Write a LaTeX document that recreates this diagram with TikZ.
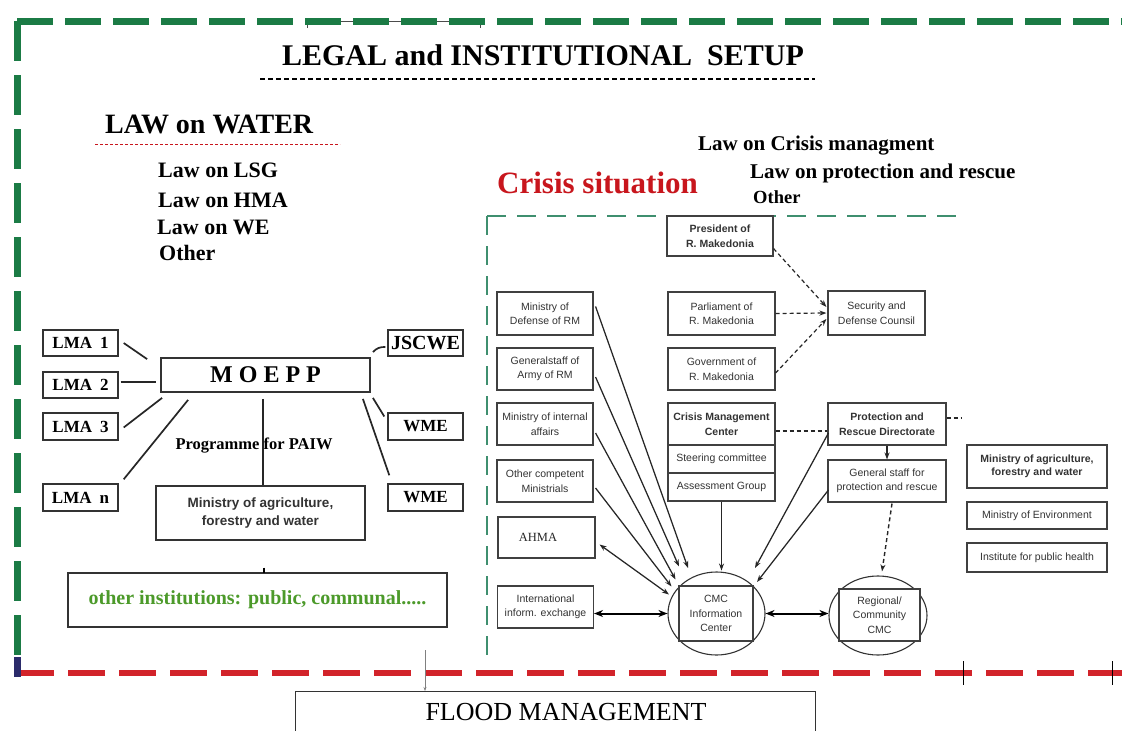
\documentclass[tikz,border=0pt]{standalone}
\usepackage{fontspec}
\setmainfont{Liberation Serif}
\newfontfamily\arialf{Liberation Sans}
\usetikzlibrary{arrows.meta,calc,shapes.geometric}
\definecolor{bordergreen}{HTML}{1B7B45}
\definecolor{borderred}{HTML}{D2232A}
\definecolor{crisisred}{HTML}{C8161D}
\definecolor{crisisgreen}{HTML}{3F8F6F}
\definecolor{instgreen}{HTML}{4C9A2A}
\definecolor{txtgrey}{HTML}{333333}
\definecolor{cornernavy}{HTML}{2B2B6B}
\begin{document}
\begin{tikzpicture}[x=1pt,y=-1pt,
  lbox/.style={draw=black!80, line width=1.4pt, fill=white, inner sep=0pt, font=\bfseries\fontsize{17}{20}\selectfont},
  cbox/.style={draw=black!75, line width=1.1pt, fill=white, inner sep=0pt, align=center, text=txtgrey, font=\arialf\fontsize{10.5}{14.5}\selectfont},
  cboxb/.style={cbox, font=\arialf\bfseries\fontsize{10.5}{14.5}\selectfont},
  arr/.style={-{Stealth[length=7pt,width=5pt]}},
  darr/.style={{Stealth[length=7pt,width=5pt]}-{Stealth[length=7pt,width=5pt]}},
  thk/.style={line width=2pt, {Stealth[length=9pt,width=7pt]}-{Stealth[length=9pt,width=7pt]}},
  conn/.style={line width=1.25pt, black!85},
  lconn/.style={line width=1.7pt, black!85},
  dconn/.style={line width=1.2pt, black!85, dash pattern=on 4pt off 3pt},
  law/.style={font=\bfseries\fontsize{22}{24}\selectfont, anchor=base west, inner sep=0pt},
  claw/.style={font=\bfseries\fontsize{21}{24}\selectfont, anchor=base west, inner sep=0pt},
]
\useasboundingbox (0,0) rectangle (1122,731);
\fill[white] (0,0) rectangle (1122,731);

% ---------- frame lines ----------
\draw[black!70, line width=0.6pt] (307,28) -- (307,21) -- (480,21) -- (480,28);
\draw[bordergreen, line width=7pt, dash pattern=on 36pt off 12pt] (17,21) -- (1122,21);
\draw[bordergreen, line width=7pt, dash pattern=on 40pt off 14pt] (17,21) -- (17,668);
\draw[borderred, line width=6pt, dash pattern=on 37pt off 14pt] (17,673) -- (1122,673);
\fill[cornernavy] (14,657) rectangle (21,677);
\draw[black, line width=0.8pt] (963,661) -- (963,685);
\draw[black, line width=0.8pt] (1112,661) -- (1112,685);

% ---------- titles ----------
\node[font=\bfseries\fontsize{30}{32}\selectfont, anchor=base, inner sep=0pt] (title) at (543,65) {LEGAL and INSTITUTIONAL\ \ SETUP};
\draw[black, line width=1.2pt, dash pattern=on 5pt off 3pt] (260,79) -- (815,79);

\node[font=\bfseries\fontsize{28}{30}\selectfont, anchor=base west, inner sep=0pt] (lawwater) at (105,133) {LAW on WATER};
\draw[crisisred, line width=1pt, dash pattern=on 3pt off 2pt] (95,144) -- (340,144);

\node[law] (l1) at (158,177) {Law on LSG};
\node[law] (l2) at (158,207) {Law on HMA};
\node[law] (l3) at (157,234) {Law on WE};
\node[law] (l4) at (159,260) {Other};

\node[font=\bfseries\fontsize{31}{33}\selectfont, text=crisisred, anchor=base west, inner sep=0pt] (crisis) at (497,193) {Crisis situation};
\node[claw] (c1) at (698,150) {Law on Crisis managment};
\node[claw] (c2) at (750,178) {Law on protection and rescue};
\node[font=\bfseries\fontsize{18.5}{20}\selectfont, anchor=base west, inner sep=0pt] (c3) at (753,203) {Other};

% ---------- left: water ----------
\node[lbox, minimum width=75pt, minimum height=26pt] (lma1) at (80.5,343) {LMA\hspace{8pt}1};
\node[lbox, minimum width=75pt, minimum height=26pt] (lma2) at (80.5,385) {LMA\hspace{8pt}2};
\node[lbox, minimum width=75pt, minimum height=27pt] (lma3) at (80.5,426.5) {LMA\hspace{8pt}3};
\node[lbox, minimum width=75pt, minimum height=27pt] (lman) at (80.5,497.5) {LMA\hspace{8pt}n};
\node[lbox, line width=1.8pt, minimum width=209pt, minimum height=34pt, font=\bfseries\fontsize{24}{26}\selectfont] (moepp) at (265.5,375) {M O E P P};
\node[lbox, minimum width=75pt, minimum height=26pt, font=\bfseries\fontsize{20}{22}\selectfont] (jscwe) at (425.5,343) {JSCWE};
\node[lbox, minimum width=75pt, minimum height=27pt] (wme1) at (425.5,426.5) {WME};
\node[lbox, minimum width=75pt, minimum height=27pt] (wme2) at (425.5,497.5) {WME};
\node[lbox, minimum width=209pt, minimum height=54pt, align=center, text=txtgrey, font=\arialf\bfseries\fontsize{13.5}{18}\selectfont] (mafw) at (260.5,513) {Ministry of agriculture,\\forestry and water};
\node[lbox, minimum width=379pt, minimum height=54pt, text=instgreen, font=\bfseries\fontsize{20}{22}\selectfont] (oth) at (257.5,600) {other institutions: public, communal.....};

\draw[lconn] ($(lma1.east)+(5,0)$) -- ($(moepp.north west)+(-13,2)$);
\draw[lconn] ($(lma2.east)+(2,-3)$) -- ($(moepp.west)+(-4,7)$);
\draw[lconn] ($(lma3.east)+(5,1)$) -- ($(moepp.south west)+(2,5)$);
\draw[lconn] ($(lman.north east)+(5,-4)$) -- ($(moepp.south west)+(28,7)$);
\draw[lconn] ($(moepp.north east)+(2,-5)$) to[bend left=25] ($(jscwe.west)+(-2,4)$);
\draw[lconn] ($(wme1.west)+(-3,-10)$) -- ($(moepp.south east)+(2,5)$);
\draw[lconn] ($(wme2.north west)+(2,-8)$) -- ($(moepp.south east)+(-8,6)$);
\coordinate (mtop) at ($(moepp.south)+(-2.5,6)$);
\draw[lconn] (mtop) -- (mtop |- mafw.north);
\node[font=\bfseries\fontsize{16.5}{18}\selectfont] (prog) at (254,446) {Programme for PAIW};
\draw[line width=2pt] ($(mafw.south)+(3,27)$) -- ++(0,5);

% ---------- flood ----------
\node[draw=black!80, line width=1.2pt, minimum width=520pt, minimum height=60pt, anchor=north west, inner sep=0pt] (flood) at (295,691) {};
\node[font=\fontsize{26}{28}\selectfont, anchor=base, inner sep=0pt] (floodt) at (566,720.5) {FLOOD MANAGEMENT};
\coordinate (fl) at (425,650);
\draw[black!50, line width=0.6pt, -{Stealth[length=4pt,width=3pt]}] (fl) -- (fl |- flood.north);

% ---------- crisis region ----------
\draw[crisisgreen, line width=1.3pt, dash pattern=on 19pt off 11pt] (487,216) -- (962,216);
\draw[crisisgreen, line width=1.3pt, dash pattern=on 19pt off 11pt] (487,216) -- (487,655);

\node[cboxb, minimum width=106pt, minimum height=40pt] (pres) at (720,236) {President of\\R. Makedonia};
\node[cbox, minimum width=96pt, minimum height=43pt] (mod) at (545,313.5) {Ministry of\\Defense of RM};
\node[cbox, minimum width=107pt, minimum height=43pt] (parl) at (721.5,313.5) {Parliament of\\R. Makedonia};
\node[cbox, minimum width=97pt, minimum height=44pt] (sec) at (876.5,313) {Security and\\Defense Counsil};
\node[cbox, minimum width=96pt, minimum height=42pt] (gen) at (545,369) {Generalstaff of\\Army of RM};
\node[cbox, minimum width=107pt, minimum height=42pt] (gov) at (721.5,369) {Government of\\R. Makedonia};
\node[cbox, minimum width=96pt, minimum height=42pt] (mia) at (545,424) {Ministry of internal\\affairs};
\node[cboxb, minimum width=107pt, minimum height=42pt] (cmcb) at (721.5,424) {Crisis Management\\Center};
\node[cbox, minimum width=107pt, minimum height=28pt] (stc) at (721.5,459) {Steering committee};
\node[cbox, minimum width=107pt, minimum height=28pt] (asg) at (721.5,487) {Assessment Group};
\node[cboxb, minimum width=118pt, minimum height=42pt] (prd) at (887,424) {Protection and\\Rescue Directorate};
\node[cbox, minimum width=118pt, minimum height=42pt] (gsp) at (887,481) {General staff for\\protection and rescue};
\node[cbox, minimum width=96pt, minimum height=42pt] (ocm) at (545,481) {Other competent\\Ministrials};
\node[cbox, minimum width=97pt, minimum height=41pt, font=\fontsize{12.5}{14}\selectfont, text=black!85] (ahma) at (546.5,537.5) {AHMA\hspace{17pt}};
\node[cbox, minimum width=96pt, minimum height=42pt] (intl) at (545.5,607) {International\\inform. exchange};

\node[cboxb, minimum width=140pt, minimum height=43pt, font=\arialf\bfseries\fontsize{10.5}{12.5}\selectfont] (maf2) at (1037,466.5) {Ministry of agriculture,\\forestry and water};
\node[cbox, minimum width=140pt, minimum height=27pt] (menv) at (1037,515.5) {Ministry of Environment};
\node[cbox, minimum width=140pt, minimum height=29pt] (iph) at (1037,557.5) {Institute for public health};

\node[ellipse, draw=black!80, line width=1.1pt, minimum width=97pt, minimum height=83pt, inner sep=0pt] (cmc) at (716.5,613.5) {};
\node[cbox, minimum width=74pt, minimum height=55pt] (cmcin) at (716,613.5) {CMC\\Information\\Center};
\node[ellipse, draw=black!80, line width=1.1pt, minimum width=98pt, minimum height=79pt, inner sep=0pt] (reg) at (878,615.5) {};
\node[cbox, minimum width=81pt, minimum height=52pt] (regin) at (879.5,615) {Regional/\\Community\\CMC};

% dashed connectors
\draw[dconn, arr] ($(pres.south east)+(0,-8)$) -- ($(sec.west)+(-1,-6)$);
\draw[dconn, arr] (parl.east) -- ($(sec.west)+(-1,0)$);
\draw[dconn, arr] ($(gov.east)+(0,4)$) -- ($(sec.west)+(-1,6)$);
\draw[dconn] ($(cmcb.east)+(0,7)$) -- ($(prd.west)+(0,7)$);
\coordinate (prdx) at (962,418);
\draw[dconn] (prd.east |- prdx) -- (prdx);
\draw[conn, arr] (prd.south) -- (gsp.north);
\draw[dconn, line width=1.4pt, arr] ($(gsp.south)+(5,1)$) -- ($(reg.north)+(4,-4)$);

% solid connectors to CMC
\draw[conn, arr] ($(mod.north east)+(2,15)$) -- ($(cmc.center)+(-28.5,-45.5)$);
\draw[conn, arr] ($(gen.east)+(2,8)$) -- ($(cmc.center)+(-37.5,-47)$);
\draw[conn, arr] ($(mia.east)+(2,9)$) -- ($(cmc.center)+(-41,-34)$);
\draw[conn, arr] ($(ocm.east)+(2,7)$) -- ($(cmc.center)+(-45,-27)$);
\draw[conn, darr] ($(ahma.east)+(4,7)$) -- ($(cmc.center)+(-47.5,-19)$);
\draw[conn, arr] (asg.south) -- ($(asg.south)+(0,69)$);
\draw[conn, arr] ($(prd.west)+(1,9)$) -- ($(cmc.center)+(38.5,-45.5)$);
\draw[conn, arr] ($(gsp.west)+(1,9)$) -- ($(cmc.center)+(40.5,-31.5)$);
\draw[thk] (intl.east |- cmc.west) -- (cmc.west);
\draw[thk] (cmc.east) -- (reg.west |- cmc.east);
\end{tikzpicture}
\end{document}
